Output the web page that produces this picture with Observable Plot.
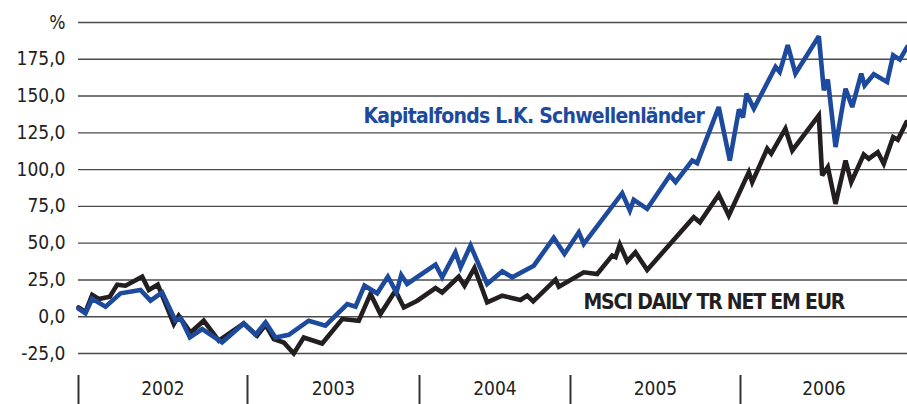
<!DOCTYPE html>
<html>
<head>
<meta charset="utf-8">
<script src="https://cdn.jsdelivr.net/npm/d3@7"></script>
<script src="https://cdn.jsdelivr.net/npm/@observablehq/plot@0.6"></script>
<style>
  html, body { margin: 0; padding: 0; background: #fff; }
  #chart svg { display: block; }
  #chart svg, #chart svg text { font-stretch: condensed; }
  .lbl-fund text { letter-spacing: -0.75px; }
  .lbl-msci text { letter-spacing: -1.2px; }
</style>
</head>
<body>
<div id="chart"></div>
<script>
// ---- data (decimal years, % change) ----
const fundName = "Kapitalfonds L.K. Schwellenländer";
const msciName = "MSCI DAILY TR NET EM EUR";

const fundX = [2002.000,2002.041,2002.081,2002.160,2002.249,2002.367,2002.426,2002.495,2002.574,2002.604,2002.659,2002.732,2002.850,2002.978,
  2003.047,2003.105,2003.163,2003.240,2003.356,2003.453,2003.580,2003.628,2003.680,2003.754,2003.816,2003.866,2003.894,2003.928,
  2004.106,2004.150,2004.238,2004.272,2004.338,2004.448,2004.548,2004.614,2004.757,2004.889,2004.960,
  2005.049,2005.078,2005.304,2005.349,2005.372,2005.451,2005.584,2005.618,2005.716,2005.745,2005.872,2005.937,2005.991,
  2006.015,2006.036,2006.080,2006.210,2006.235,2006.283,2006.329,2006.469,2006.499,2006.523,2006.569,2006.629,2006.669,2006.723,2006.743,2006.798,2006.878,2006.914,2006.954,2006.998];
const fundY = [5.5,2.3,12.2,6.8,15.9,18.2,10.9,16.5,-2.7,-0.9,-14.1,-8.4,-17.5,-4.6,
  -12.3,-3.9,-14.1,-12.3,-2.7,-6.1,8.6,6.8,21.1,15.9,27.2,16.5,28.4,22.3,
  35.4,26.8,43.8,33.6,48.4,22.3,30.9,26.8,34.7,53.6,42.7,
  57.4,49.5,84.0,72.2,79.5,73.3,96.0,91.5,106.2,104.4,142.5,106.2,141.0,
  135.5,151.6,141.5,169.8,166.4,184.6,165.3,190.7,153.9,161.2,115.3,155.0,142.5,165.3,157.3,164.8,159.6,177.7,174.8,183.4];

const msciX = [2002.000,2002.041,2002.081,2002.120,2002.185,2002.229,2002.278,2002.377,2002.416,2002.469,2002.564,2002.593,2002.663,2002.741,2002.830,2002.978,
  2003.056,2003.105,2003.153,2003.211,2003.269,2003.327,2003.434,2003.551,2003.647,2003.715,2003.773,2003.860,2003.909,2003.987,
  2004.106,2004.150,2004.260,2004.298,2004.364,2004.448,2004.548,2004.669,2004.713,2004.753,2004.901,2004.923,
  2005.078,2005.157,2005.245,2005.265,2005.290,2005.334,2005.382,2005.451,2005.725,2005.761,2005.872,2005.931,
  2006.050,2006.070,2006.160,2006.184,2006.269,2006.310,2006.469,2006.489,2006.523,2006.569,2006.629,2006.663,2006.738,2006.768,2006.822,2006.858,2006.914,2006.942,2006.994];
const msciY = [6.3,3.2,14.8,12.0,13.6,21.8,21.1,27.2,18.2,21.8,-5.0,0.7,-10.7,-2.7,-16.3,-4.6,
  -12.9,-5.5,-15.2,-17.5,-25.0,-14.1,-18.2,-1.6,-2.7,15.5,1.8,17.7,6.3,10.9,
  19.5,16.5,27.2,21.1,33.2,9.7,14.3,11.4,14.3,10.4,25.2,20.4,
  30.2,29.0,41.5,40.5,49.0,37.7,43.8,31.8,67.6,64.2,83.0,68.8,
  98.3,91.5,114.2,110.8,127.8,113.0,136.9,96.0,101.7,76.7,106.2,91.5,110.3,107.4,111.9,104.0,122.1,120.3,132.3];

const yTicks = [-25, 0, 25, 50, 75, 100, 125, 150, 175, 200];
const yUnit = "%";
const yearBounds = [2002, 2003, 2004, 2005, 2006];
const yearLabels = ["2002", "2003", "2004", "2005", "2006"];
const yearMids = [2002.5, 2003.5, 2004.5, 2005.5, 2006.5];

const fundLabel = [{name: fundName, x: 2003.674, y: 131.4}];
const msciLabel = [{name: msciName, x: 2005.076, y: 5.4}];

const fund = fundX.map((x, i) => ({x, y: fundY[i]}));
const msci = msciX.map((x, i) => ({x, y: msciY[i]}));

const FONT = "'DejaVu Sans Condensed', 'DejaVu Sans', sans-serif";
const BLUE = "#1d4a9c";
const BLACK = "#231f20";

const chart = Plot.plot({
  width: 907,
  height: 404,
  marginLeft: 78,
  marginRight: 0,
  marginTop: 22,
  marginBottom: 51,
  style: {fontFamily: FONT, fontSize: "20px", background: "#fff", overflow: "visible"},
  x: {type: "linear", domain: [2002, 2003, 2004, 2005, 2006, 2007], range: [78, 247, 419, 570, 740, 907]},
  y: {domain: [-25, 200]},
  marks: [
    Plot.ruleY(yTicks, {stroke: "#4a4a4a", strokeWidth: 1.4}),
    Plot.axisY({ticks: yTicks, tickSize: 0, tickPadding: 13, fontSize: 19, fill: "#222",
      tickFormat: d => d === 200 ? yUnit : d.toFixed(1).replace(".", ","), label: null}),
    Plot.axisX({ticks: yearBounds, tickSize: 29, dy: 22, tickFormat: () => "", stroke: "#333", strokeWidth: 2, label: null}),
    Plot.axisX({ticks: yearMids, tickSize: 0, tickPadding: 28, fontSize: 19, fill: "#222",
      tickFormat: (d, i) => yearLabels[i], label: null}),
    Plot.line(msci, {x: "x", y: "y", stroke: BLACK, strokeWidth: 4.6, strokeLinejoin: "miter", strokeMiterlimit: 3}),
    Plot.line(fund, {x: "x", y: "y", stroke: BLUE, strokeWidth: 4.6, strokeLinejoin: "miter", strokeMiterlimit: 3}),
    Plot.text(fundLabel, {x: "x", y: "y", text: "name", fill: BLUE, textAnchor: "start", lineAnchor: "bottom",
      fontSize: 21, fontWeight: "bold", fontFamily: FONT, className: "lbl-fund"}),
    Plot.text(msciLabel, {x: "x", y: "y", text: "name", fill: BLACK, textAnchor: "start", lineAnchor: "bottom",
      fontSize: 21, fontWeight: "bold", fontFamily: FONT, className: "lbl-msci"})
  ]
});
document.getElementById("chart").appendChild(chart);
</script>
</body>
</html>
